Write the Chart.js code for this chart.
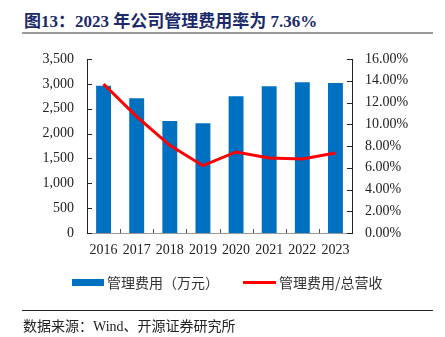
<!DOCTYPE html>
<html>
<head>
<meta charset="utf-8">
<script src="https://cdn.jsdelivr.net/npm/chart.js@4.4.1/dist/chart.umd.min.js"></script>
<style>
  html, body { margin: 0; padding: 0; background: #fff; }
  #wrap { position: relative; width: 445px; height: 337px; overflow: hidden; }
  #chart { position: absolute; left: 0; top: 0; }
  .title { position: absolute; left: 24px; top: 7px; font: bold 17px "Liberation Serif", "Noto Sans CJK SC", serif; color: #1b2a6b; white-space: nowrap; }
  .rule { position: absolute; left: 22px; width: 411px; }
  .legend { position: absolute; top: 272px; font: 14px "Noto Sans CJK SC", sans-serif; color: #333; white-space: nowrap; }
  .src { position: absolute; left: 23px; top: 315px; font: 14px "Liberation Serif", "Noto Sans CJK SC", serif; color: #222; white-space: nowrap; }
</style>
</head>
<body>
<div id="wrap">
  <div class="title">图13：2023 年公司管理费用率为 7.36%</div>
  <div class="rule" style="top:32px;height:2px;background:#9a9a9a;"></div>
  <canvas id="chart" width="445" height="337"></canvas>
  <div class="legend" style="left:72px;"><span style="display:inline-block;width:32px;height:7px;background:#0070c0;vertical-align:middle;margin-right:3px;position:relative;top:-2px;"></span>管理费用（万元）</div>
  <div class="legend" style="left:243px;"><span style="display:inline-block;width:33px;height:3px;background:#ff0000;vertical-align:middle;margin-right:3px;position:relative;top:-2px;"></span>管理费用/总营收</div>
  <div class="rule" style="top:310px;height:1px;background:#222;"></div>
  <div class="src">数据来源：Wind、开源证券研究所</div>
</div>
<script>
const years = ["2016", "2017", "2018", "2019", "2020", "2021", "2022", "2023"];
// 管理费用（万元）
const adminCost = [2963, 2710, 2253, 2206, 2750, 2951, 3031, 3017];
// 管理费用/总营收 (%)
const costRatio = [13.70, 10.70, 8.06, 6.19, 7.45, 6.90, 6.80, 7.36];

const leftMax = 3500, leftStep = 500;
const rightMax = 16, rightStep = 2;

// ticks in the reference point into the plot, so draw them ourselves
const innerTicks = {
  id: "innerTicks",
  afterDatasetsDraw(chart) {
    const { ctx, chartArea, scales } = chart;
    ctx.save();
    ctx.lineWidth = 1;
    ctx.strokeStyle = "#222";
    scales.y.ticks.forEach((t, i) => {
      const yy = Math.round(scales.y.getPixelForTick(i)) + 0.5;
      ctx.beginPath();
      ctx.moveTo(chartArea.left, yy);
      ctx.lineTo(chartArea.left + 5, yy);
      ctx.stroke();
    });
    scales.y1.ticks.forEach((t, i) => {
      const yy = Math.round(scales.y1.getPixelForTick(i)) + 0.5;
      ctx.beginPath();
      ctx.moveTo(chartArea.right, yy);
      ctx.lineTo(chartArea.right - 5, yy);
      ctx.stroke();
    });
    ctx.strokeStyle = "#555";
    for (let i = 1; i < years.length; i++) {
      const xx = Math.round(scales.x.getPixelForValue(i - 0.5)) + 0.5;
      ctx.beginPath();
      ctx.moveTo(xx, chartArea.bottom);
      ctx.lineTo(xx, chartArea.bottom - 4);
      ctx.stroke();
    }
    ctx.restore();
  },
};

new Chart(document.getElementById("chart"), {
  data: {
    labels: years,
    datasets: [
      {
        type: "line",
        label: "管理费用/总营收",
        data: costRatio,
        yAxisID: "y1",
        borderColor: "#ff0000",
        borderWidth: 3,
        pointRadius: 0,
        tension: 0,
        order: 0,
      },
      {
        type: "bar",
        label: "管理费用（万元）",
        data: adminCost,
        yAxisID: "y",
        backgroundColor: "#0070c0",
        categoryPercentage: 1,
        barPercentage: 0.45,
        order: 1,
      },
    ],
  },
  options: {
    responsive: false,
    animation: false,
    layout: { padding: { top: 59, bottom: 80, left: 0, right: 0 } },
    plugins: { legend: { display: false }, tooltip: { enabled: false } },
    scales: {
      x: {
        grid: { display: false, drawTicks: false },
        border: { display: true, color: "#999", width: 1 },
        ticks: {
          color: "#222",
          padding: 9,
          maxRotation: 0,
          minRotation: 0,
          autoSkip: false,
          font: { family: "Liberation Serif", size: 14 },
        },
        afterFit: (s) => { s.height = 24; },
      },
      y: {
        position: "left",
        min: 0,
        max: leftMax,
        grid: { display: false, drawTicks: false },
        border: { display: true, color: "#222", width: 1 },
        ticks: {
          stepSize: leftStep,
          color: "#222",
          padding: 13,
          font: { family: "Liberation Serif", size: 14 },
          callback: (v) => v.toLocaleString("en-US"),
        },
        afterFit: (s) => { s.width = 87; },
      },
      y1: {
        position: "right",
        min: 0,
        max: rightMax,
        grid: { display: false, drawTicks: false },
        border: { display: true, color: "#222", width: 1 },
        ticks: {
          stepSize: rightStep,
          color: "#222",
          padding: 13,
          font: { family: "Liberation Serif", size: 14 },
          callback: (v) => v.toFixed(2) + "%",
        },
        afterFit: (s) => { s.width = 93; },
      },
    },
  },
  plugins: [innerTicks],
});
</script>
</body>
</html>
